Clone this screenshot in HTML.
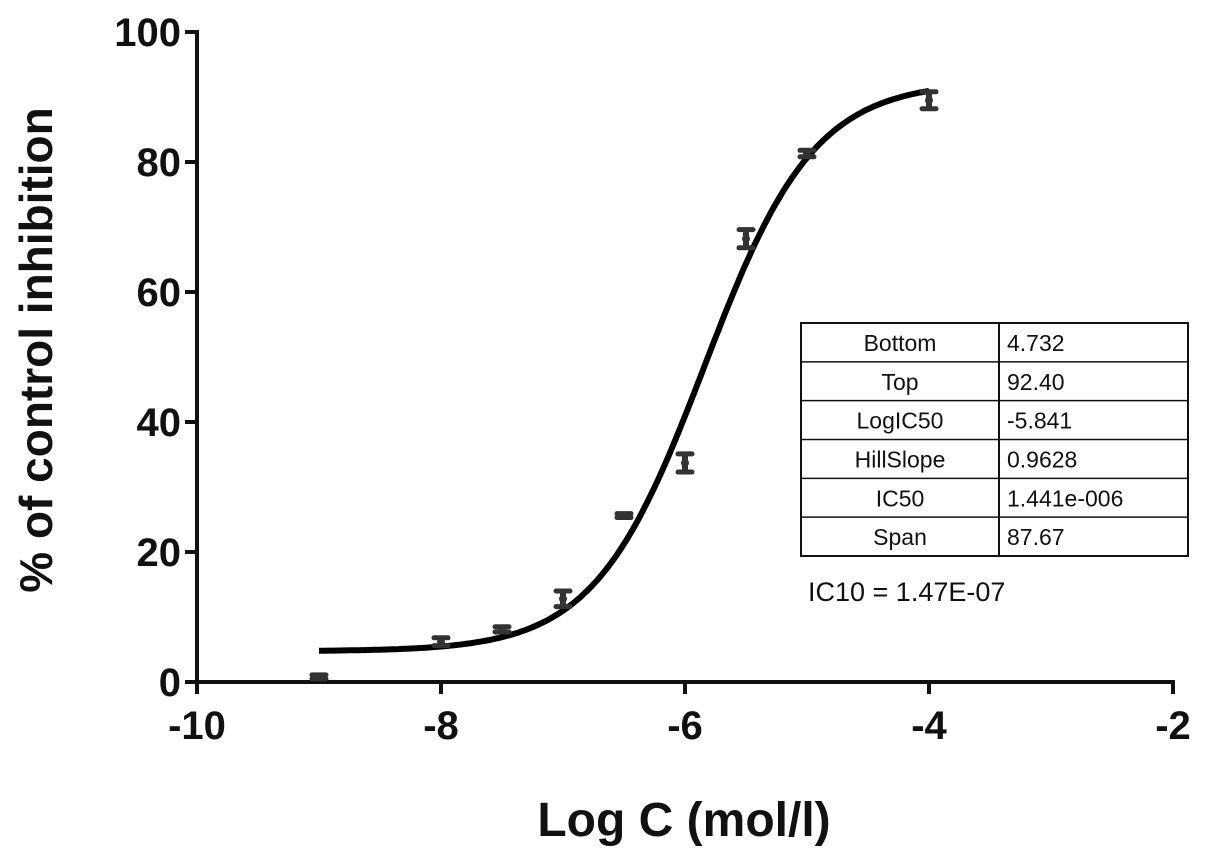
<!DOCTYPE html>
<html><head><meta charset="utf-8"><style>
body{margin:0;background:#fff;width:1205px;height:856px;overflow:hidden}
svg text{font-family:"Liberation Sans",Arial,sans-serif}
</style></head><body>
<svg id="chart" width="1205" height="856" viewBox="0 0 1205 856" xmlns="http://www.w3.org/2000/svg">
<g id="axes"></g><g id="marks"></g>
<g font-size="23" fill="#111">
<rect x="801" y="323" width="387" height="233" fill="#fff" stroke="#111" stroke-width="2"/>
<line x1="999" y1="323" x2="999" y2="556" stroke="#111" stroke-width="2"/>
<g id="rows"></g>
</g>
<text x="808" y="601" font-size="27" fill="#111">IC10 = 1.47E-07</text>
<text x="684" y="836" font-size="48" font-weight="bold" text-anchor="middle" fill="#111">Log C (mol/l)</text>
<text transform="translate(52,350) rotate(-90)" font-size="46" font-weight="bold" text-anchor="middle" fill="#111">% of control inhibition</text>
</svg>
<script>
const xTicks=[-10,-8,-6,-4,-2];
const yTicks=[0,20,40,60,80,100];
const logC=[-9,-8,-7.5,-7,-6.5,-6,-5.5,-5,-4];
const meanVals=[0.8,6.2,8.1,12.8,25.6,33.7,68.2,81.3,89.5];
const errVals=[0.3,0.6,0.4,1.2,0.3,1.4,1.4,0.5,1.3];
const paramNames=["Bottom","Top","LogIC50","HillSlope","IC50","Span"];
const paramValues=["4.732","92.40","-5.841","0.9628","1.441e-006","87.67"];
const bottom=4.732, top_=92.40, logIC50=-5.841, hill=0.9628;
const NS="http://www.w3.org/2000/svg";
const X=v=>197+(v+10)*122;
const Y=v=>682-v*6.5;
function mk(t,a,p){const e=document.createElementNS(NS,t);for(const k in a)e.setAttribute(k,a[k]);p.appendChild(e);return e;}
const ax=document.getElementById('axes'),mg=document.getElementById('marks'),rows=document.getElementById('rows');
let l=mk('line',{x1:X(-10)-2,y1:Y(0),x2:X(-2)+2,y2:Y(0),stroke:'#111','stroke-width':4},ax);


l=mk('line',{x1:X(-10),y1:Y(0)+2,x2:X(-10),y2:Y(100)-2,stroke:'#111','stroke-width':4},ax);


xTicks.forEach(t=>{
 let k=mk('line',{x1:X(t),y1:Y(0),x2:X(t),y2:Y(0)+12,stroke:'#111','stroke-width':4},ax);
 
 
 let tx=mk('text',{x:X(t),y:739,'font-size':40,'font-weight':'bold','text-anchor':'middle',fill:'#111'},ax);
 tx.textContent=t;
 
 
});
yTicks.forEach(t=>{
 let k=mk('line',{x1:X(-10)-12,y1:Y(t),x2:X(-10),y2:Y(t),stroke:'#111','stroke-width':4},ax);
 
 
 let tx=mk('text',{x:X(-10)-16,y:Y(t)+14,'font-size':40,'font-weight':'bold','text-anchor':'end',fill:'#111'},ax);
 tx.textContent=t;
 
 
});
let d='';
for(let i=0;i<=200;i++){const x=-9+5*i/200;const y=bottom+(top_-bottom)/(1+Math.pow(10,(logIC50-x)*hill));d+=(i?'L':'M')+X(x).toFixed(1)+','+Y(y).toFixed(1);}
const c=mk('path',{d:d,fill:'none',stroke:'#000','stroke-width':6},mg);


logC.forEach((v,i)=>{
 const g=mk('g',{fill:'#333',stroke:'#333'},mg);
 
 
 const x=X(v),y1=Y(meanVals[i]+errVals[i]),y2=Y(meanVals[i]-errVals[i]);
 mk('line',{x1:x,y1:y1,x2:x,y2:y2,'stroke-width':6},g);
 mk('line',{x1:x-7,y1:y1,x2:x+7,y2:y1,'stroke-width':5,'stroke-linecap':'round'},g);
 mk('line',{x1:x-7,y1:y2,x2:x+7,y2:y2,'stroke-width':5,'stroke-linecap':'round'},g);
 mk('circle',{cx:x,cy:Y(meanVals[i]),r:4,stroke:'none'},g);
});
const rh=233/6;
paramNames.forEach((n,i)=>{
 if(i>0){mk('line',{x1:801,y1:323+i*rh,x2:1188,y2:323+i*rh,stroke:'#111','stroke-width':1.5},rows);}
 let a=mk('text',{x:900,y:323+i*rh+28,'text-anchor':'middle'},rows);a.textContent=n;
 
 
 let b=mk('text',{x:1007,y:323+i*rh+28},rows);b.textContent=paramValues[i];
 
 
});
</script>
</body></html>
